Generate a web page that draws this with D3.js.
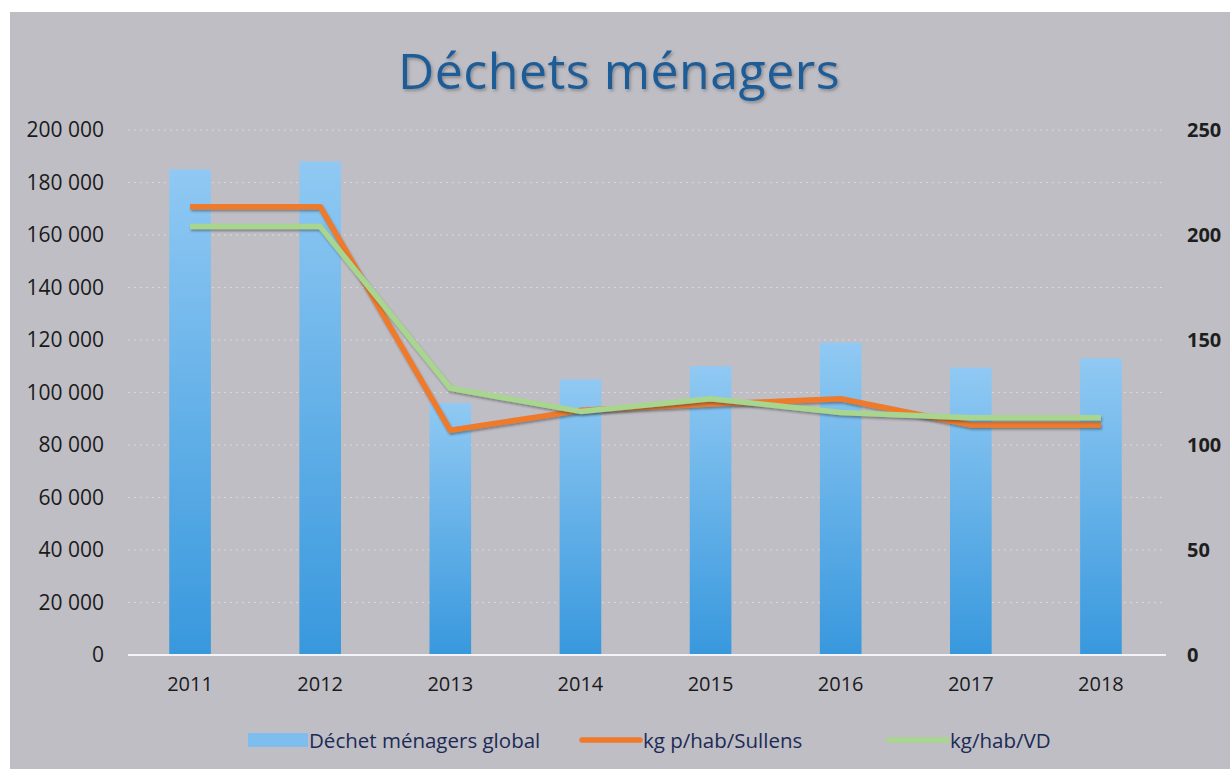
<!DOCTYPE html>
<html><head><meta charset="utf-8">
<script src="https://cdn.jsdelivr.net/npm/d3@7"></script>
<style>html,body{margin:0;padding:0;background:#fff;}svg{display:block;}</style>
</head><body>
<svg id="c" width="1230" height="769"></svg>
<script>
const years = ["2011","2012","2013","2014","2015","2016","2017","2018"];
const globalTotal = [185000, 188000, 96000, 105000, 110000, 119000, 109500, 113000];
const kgSullens = [213.5, 213.5, 107, 116.5, 119.5, 122, 109.5, 109.5];
const kgVD = [204, 204, 127, 116, 122, 115.5, 113, 113];
const leftTicks = [0,20000,40000,60000,80000,100000,120000,140000,160000,180000,200000];
const rightTicks = [0,50,100,150,200,250];

const svg = d3.select("#c");
const defs = svg.append("defs");
const g1 = defs.append("linearGradient").attr("id","barg").attr("x1",0).attr("y1",0).attr("x2",0).attr("y2",1);
g1.append("stop").attr("offset","0%").attr("stop-color","#90C9F3");
g1.append("stop").attr("offset","100%").attr("stop-color","#3898DD");
const f = defs.append("filter").attr("id","ts").attr("x","-10%").attr("y","-20%").attr("width","130%").attr("height","150%");
f.append("feDropShadow").attr("dx",1.5).attr("dy",2).attr("stdDeviation",1.5).attr("flood-color","#555").attr("flood-opacity",0.5);
const fl = defs.append("filter").attr("id","ls").attr("x","-5%").attr("y","-20%").attr("width","110%").attr("height","150%");
fl.append("feDropShadow").attr("dx",1).attr("dy",2).attr("stdDeviation",1.2).attr("flood-color","#333").attr("flood-opacity",0.45);

// background
svg.append("rect").attr("x",10).attr("y",12).attr("width",1220).attr("height",757).attr("fill","#BFBEC5");

const font = "'Open Sans', 'Noto Sans', sans-serif";
const x = d3.scaleBand().domain(years).range([125,1166]).paddingInner(0.68).paddingOuter(0.34);
const yL = d3.scaleLinear().domain([0,200000]).range([655,130]);
const yR = d3.scaleLinear().domain([0,250]).range([655,130]);

// gridlines
svg.append("g").selectAll("line").data(leftTicks.filter(d=>d>0)).join("line")
  .attr("x1",128).attr("x2",1166).attr("y1",d=>yL(d)).attr("y2",d=>yL(d))
  .attr("stroke","#E4E4EA").attr("stroke-width",1.2).attr("stroke-dasharray","2,4").attr("opacity",0.7);

// bars
svg.append("g").selectAll("rect").data(years).join("rect")
  .attr("x",d=>x(d)).attr("width",x.bandwidth())
  .attr("y",(d,i)=>yL(globalTotal[i])).attr("height",(d,i)=>yL(0)-yL(globalTotal[i]))
  .attr("fill","url(#barg)");

// baseline
svg.append("line").attr("x1",128).attr("x2",1166).attr("y1",yL(0)).attr("y2",yL(0))
  .attr("stroke","#F4F4F8").attr("stroke-width",2);

// lines
const cx = d => x(d) + x.bandwidth()/2;
const line = d3.line().x((v,i)=>cx(years[i])).y(v=>yR(v));
svg.append("path").datum(kgSullens).attr("d",line).attr("fill","none")
  .attr("stroke","#EE7A2C").attr("stroke-width",5.5).attr("stroke-linejoin","round").attr("filter","url(#ls)");
svg.append("path").datum(kgVD).attr("d",line).attr("fill","none")
  .attr("stroke","#A8D68E").attr("stroke-width",5.5).attr("stroke-linejoin","round").attr("filter","url(#ls)");

// left axis
const fmt = d => d3.format(",")(d).replace(/,/g," ");
const axL = d3.axisLeft(yL).tickValues(leftTicks).tickFormat(fmt).tickSize(0).tickPadding(0);
const gl = svg.append("g").attr("transform","translate(104,0)").call(axL);
gl.select(".domain").remove();
gl.selectAll("text").attr("font-family",font).attr("font-size",21).attr("fill","#1A1A1A");

// right axis
const axR = d3.axisRight(yR).tickValues(rightTicks).tickSize(0).tickPadding(0);
const gr = svg.append("g").attr("transform","translate(1187,0)").call(axR);
gr.select(".domain").remove();
gr.selectAll("text").attr("font-family",font).attr("font-size",20).attr("font-weight","bold").attr("fill","#1E1E1E");

// x axis
const axX = d3.axisBottom(x).tickSize(0).tickPadding(0);
const gx = svg.append("g").attr("transform","translate(0,677)").call(axX);
gx.select(".domain").remove();
gx.selectAll("text").attr("font-family",font).attr("font-size",20).attr("fill","#1A1A1A");

// title
svg.append("text").attr("x",619).attr("y",89).attr("text-anchor","middle")
  .attr("font-family",font).attr("font-size",50).attr("fill","#1F5D98").attr("filter","url(#ts)")
  .attr("letter-spacing",0.5).text("Déchets ménagers");

// legend
const legend = [
  {name:"Déchet ménagers global", type:"bar", x:248, color:"url(#barg)"},
  {name:"kg p/hab/Sullens", type:"line", x:582, color:"#EE7A2C"},
  {name:"kg/hab/VD", type:"line", x:889, color:"#A8D68E"}
];
const lg = svg.append("g");
legend.forEach(l=>{
  if(l.type==="bar"){
    lg.append("rect").attr("x",l.x).attr("y",733).attr("width",60).attr("height",14).attr("fill","#7DBEEE");
  } else {
    lg.append("line").attr("x1",l.x).attr("x2",l.x+58).attr("y1",740).attr("y2",740)
      .attr("stroke",l.color).attr("stroke-width",5.5).attr("stroke-linecap","round");
  }
  lg.append("text").attr("x",l.x+61).attr("y",748).attr("font-family",font).attr("font-size",20.5)
    .attr("fill","#1C2A55").text(l.name);
});
</script>
</body></html>
